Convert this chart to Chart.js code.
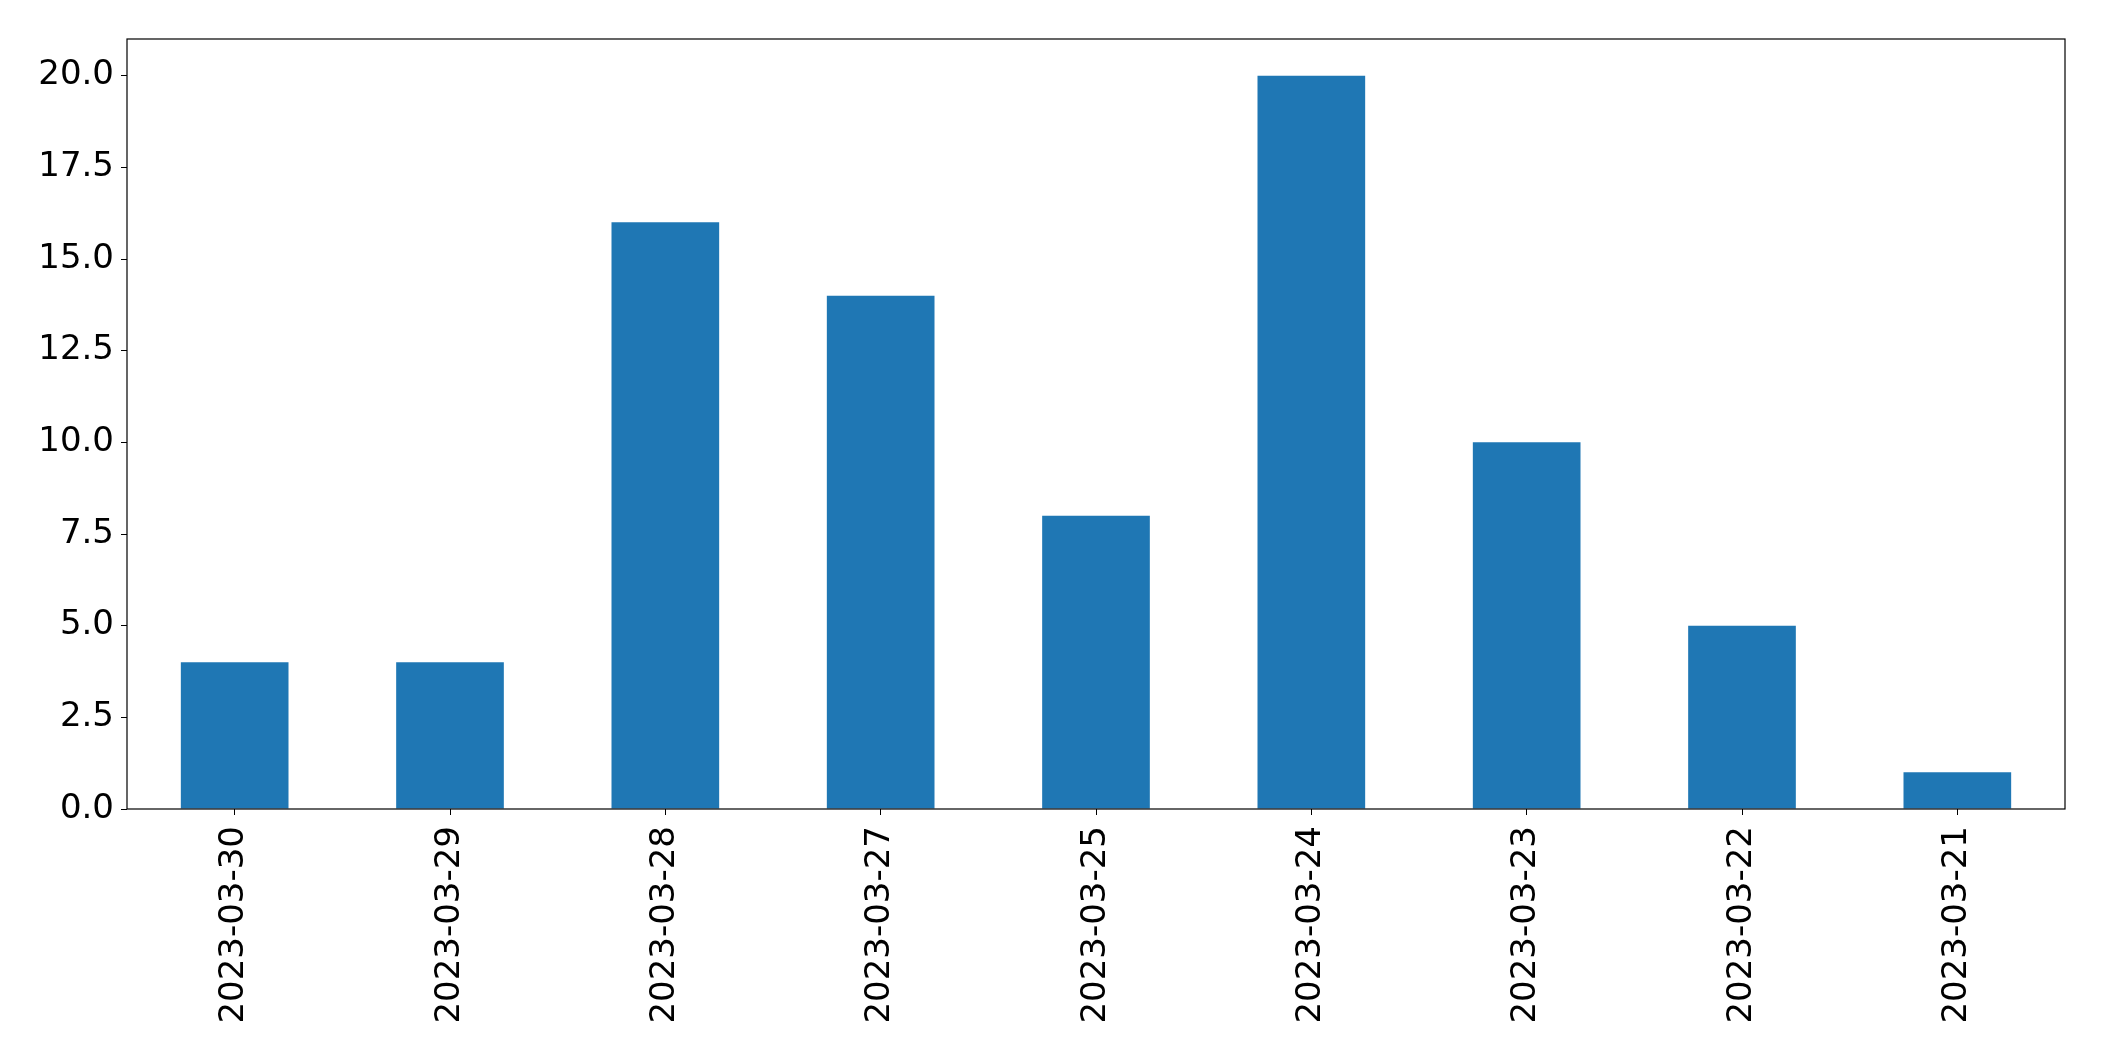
<!DOCTYPE html>
<html>
<head>
<meta charset="utf-8">
<script src="https://cdn.jsdelivr.net/npm/chart.js@4/dist/chart.umd.min.js"></script>
<style>
  body { margin: 0; background: #fff; }
  canvas { display: block; }
</style>
</head>
<body>
<canvas id="countChart" width="2104" height="1061"></canvas>
<script>
const dates = ['2023-03-30', '2023-03-29', '2023-03-28', '2023-03-27', '2023-03-25',
               '2023-03-24', '2023-03-23', '2023-03-22', '2023-03-21'];
const counts = [4, 4, 16, 14, 8, 20, 10, 5, 1];

const frameBox = {
    id: 'frameBox',
    afterDraw(chart) {
        const a = chart.chartArea;
        const c = chart.ctx;
        c.save();
        c.strokeStyle = '#000';
        c.lineWidth = 1.2;
        c.strokeRect(a.left, a.top, a.right - a.left, a.bottom - a.top);
        c.restore();
    }
};

const ctx = document.getElementById('countChart');
new Chart(ctx, {
    type: 'bar',
    data: {
        labels: dates,
        datasets: [{
            data: counts,
            backgroundColor: '#1f77b4',
            categoryPercentage: 1.0,
            barPercentage: 0.5,
        }]
    },
    options: {
        responsive: false,
        devicePixelRatio: 1,
        animation: false,
        layout: {
            padding: { top: 39, right: 39, left: 0, bottom: 0 }
        },
        plugins: {
            legend: { display: false },
            tooltip: { enabled: false }
        },
        scales: {
            x: {
                afterFit(scale) { scale.height = 252; },
                grid: {
                    offset: false,
                    drawOnChartArea: false,
                    drawTicks: true,
                    tickLength: 6,
                    color: '#000'
                },
                border: { display: false },
                ticks: {
                    minRotation: 90,
                    maxRotation: 90,
                    padding: 11,
                    color: '#000',
                    font: { family: 'DejaVu Sans', size: 34 }
                }
            },
            y: {
                min: 0,
                max: 21,
                afterFit(scale) { scale.width = 127; },
                grid: {
                    drawOnChartArea: false,
                    drawTicks: true,
                    tickLength: 6,
                    color: '#000'
                },
                border: { display: false },
                ticks: {
                    stepSize: 2.5,
                    includeBounds: false,
                    padding: 7,
                    color: '#000',
                    font: { family: 'DejaVu Sans', size: 34 },
                    callback: v => v.toFixed(1)
                }
            }
        }
    },
    plugins: [frameBox]
});
</script>
</body>
</html>
